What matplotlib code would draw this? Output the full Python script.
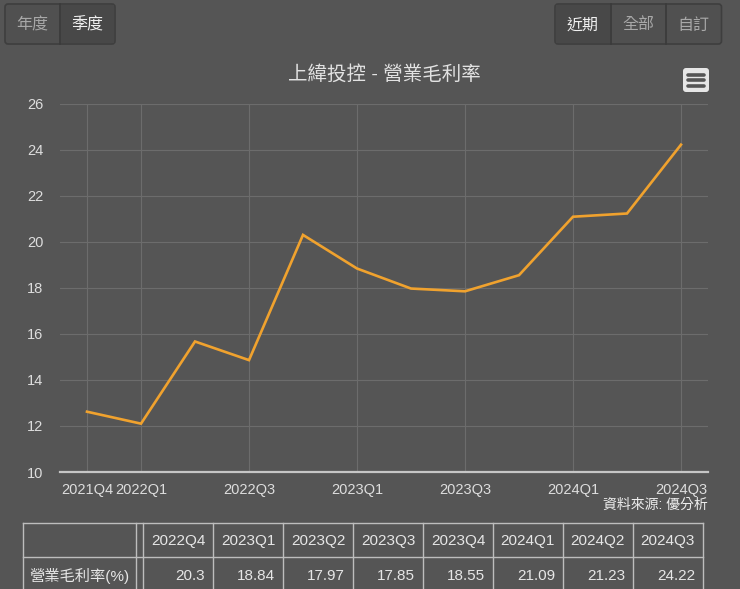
import matplotlib.pyplot as plt
from matplotlib.patches import FancyBboxPatch, Rectangle

plt.rcParams['font.family'] = ['Liberation Sans', 'Noto Sans CJK TC', 'DejaVu Sans']

# data
quarters = ['2021Q4', '2022Q1', '2022Q2', '2022Q3', '2022Q4', '2023Q1',
            '2023Q2', '2023Q3', '2023Q4', '2024Q1', '2024Q2', '2024Q3']
gross_margin = [12.62, 12.1, 15.67, 14.86, 20.3, 18.84,
                17.97, 17.85, 18.55, 21.09, 21.23, 24.22]
label_idx = [0, 1, 3, 5, 7, 9, 11]
y_ticks = [10, 12, 14, 16, 18, 20, 22, 24, 26]
title = '上緯投控 - 營業毛利率'
row_label = '營業毛利率(%)'
table_n = 8

bg = '#555555'
W, H = 740, 589
fig = plt.figure(figsize=(W / 100, H / 100), dpi=100, facecolor=bg)

# main chart, placed in pixel terms
def fr(x0, y0, x1, y1):
    return [x0 / W, 1 - y1 / H, (x1 - x0) / W, (y1 - y0) / H]

ax = fig.add_axes(fr(60, 103.7, 708, 472))
ax.set_facecolor(bg)
x = list(range(len(quarters)))
ax.plot(x, gross_margin, color='#f0a22e', lw=1.9, solid_joinstyle='miter', zorder=3)
ax.set_xlim(-0.5, len(quarters) - 0.5)
ax.set_ylim(10, 26)
ax.set_yticks(y_ticks)
ax.set_xticks(label_idx)
ax.set_xticklabels([quarters[i] for i in label_idx])
ax.grid(True, color='#6c6c6c', lw=0.8)
ax.set_axisbelow(True)
for s in ['top', 'right', 'left']:
    ax.spines[s].set_visible(False)
ax.spines['bottom'].set_color('#c6c6c6')
ax.spines['bottom'].set_linewidth(1.6)
ax.tick_params(axis='both', length=0, colors='#dddddd', labelsize=10.5)
ax.tick_params(axis='y', pad=12)
ax.tick_params(axis='x', pad=8)
ax.set_title(title, color='#e2e2e2', fontsize=14, pad=17)

# overlay in pixel coordinates for buttons, icon and table
ov = fig.add_axes([0, 0, 1, 1], zorder=5)
ov.set_xlim(0, W)
ov.set_ylim(H, 0)
ov.axis('off')
ov.patch.set_alpha(0)

def button_group(x0, labels, sel, w, y0=4, h=40):
    ov.add_patch(FancyBboxPatch((x0, y0), w * len(labels), h,
                                boxstyle='round,pad=0,rounding_size=3',
                                fc='#505050', ec='#3e3e3e', lw=1.2))
    for i, t in enumerate(labels):
        bx = x0 + i * w
        if i == sel:
            ov.add_patch(Rectangle((bx + 1, y0 + 1), w - 2, h - 2, fc='#484848', ec='none'))
        if i > 0:
            ov.plot([bx, bx], [y0, y0 + h], color='#3a3a3a', lw=1.2)
        ov.text(bx + w / 2, y0 + h / 2 + 1, t, ha='center', va='center', fontsize=11.5,
                color='#f0f0f0' if i == sel else '#a8a8a8')

button_group(5, ['年度', '季度'], 1, 55)
button_group(555, ['近期', '全部', '自訂'], 0, 55.5)

# menu icon
ov.add_patch(FancyBboxPatch((683, 68), 26, 24, boxstyle='round,pad=0,rounding_size=3',
                            fc='#e6e6e6', ec='none'))
for yy in [74.5, 80, 85.5]:
    ov.plot([688, 704], [yy, yy], color='#555555', lw=2.6, solid_capstyle='round')

ov.text(708, 505, '資料來源: 優分析', ha='right', va='center', fontsize=10, color='#eeeeee')

# table
lc = '#bdbdbd'
t_left, c1, c2, t_right = 22.7, 136, 143.4, 703
top, mid, bot = 522.7, 557.3, 595
n = table_n
cw = (t_right - c2) / n
ov.plot([t_left, t_right], [top, top], color=lc, lw=1)
ov.plot([t_left, t_right], [mid, mid], color=lc, lw=1)
for xx in [t_left, c1, c2] + [c2 + cw * (i + 1) for i in range(n)]:
    ov.plot([xx, xx], [top, bot], color=lc, lw=1)
tq = quarters[-n:]
tv = gross_margin[-n:]
for i in range(n):
    rx = c2 + cw * (i + 1) - 8
    ov.text(rx, (top + mid) / 2 + 1, tq[i], ha='right', va='center', fontsize=11, color='#e6e6e6')
    ov.text(rx, 576, f'{tv[i]:g}', ha='right', va='center', fontsize=11, color='#e6e6e6')
ov.text(t_left + 7, 576, row_label, ha='left', va='center', fontsize=11, color='#e6e6e6')

fig.savefig('out.png', dpi=100, facecolor=bg)
